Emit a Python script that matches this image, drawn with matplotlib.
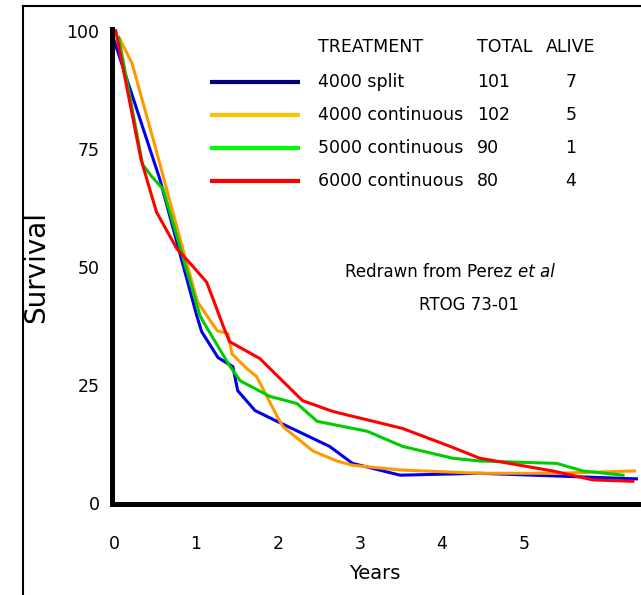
import numpy as np
import matplotlib
matplotlib.use("Agg")
import matplotlib.pyplot as plt
from matplotlib.lines import Line2D

# survival curves (years, % alive)
split4000_x = [0, 0.56, 1.01, 1.07, 1.27, 1.45, 1.51, 1.72, 1.99, 2.63, 2.91, 3.49, 4.46, 6.41]
split4000_y = [98.1, 68.6, 39.7, 36.3, 30.8, 28.9, 23.8, 19.6, 17.3, 12.0, 8.4, 5.9, 6.3, 5.1]

cont4000_x = [0.06, 0.22, 0.48, 0.84, 1.02, 1.26, 1.39, 1.44, 1.62, 1.74, 1.99, 2.06, 2.43, 2.72, 2.91, 3.49, 4.46, 5.40, 6.35]
cont4000_y = [98.7, 93.2, 77.0, 53.8, 42.6, 36.5, 35.9, 31.6, 28.5, 26.8, 18.4, 16.2, 11.0, 8.9, 8.0, 7.0, 6.3, 6.3, 6.8]

cont5000_x = [0.06, 0.35, 0.46, 0.60, 1.05, 1.09, 1.41, 1.54, 1.90, 2.23, 2.48, 3.09, 3.52, 4.13, 4.46, 5.40, 5.72, 6.21]
cont5000_y = [98.5, 71.7, 69.2, 66.5, 39.7, 38.4, 29.1, 25.9, 22.6, 21.1, 17.3, 15.2, 12.0, 9.5, 8.9, 8.4, 6.8, 5.9]

cont6000_x = [0.02, 0.33, 0.52, 0.77, 0.96, 1.13, 1.21, 1.33, 1.41, 1.78, 2.30, 2.67, 3.52, 4.10, 4.46, 5.35, 5.84, 6.33]
cont6000_y = [100.2, 72.8, 61.6, 53.8, 50.2, 46.8, 43.2, 37.6, 34.2, 30.6, 21.7, 19.4, 15.8, 12.0, 9.5, 6.8, 4.9, 4.6]

treatments = ["4000 split", "4000 continuous", "5000 continuous", "6000 continuous"]
totals = [101, 102, 90, 80]
alive = [7, 5, 1, 4]
line_colors = ["#0000ee", "#ff9900", "#00cc00", "#ff0000"]
key_colors = ["#000080", "#ffc000", "#00ff00", "#ff0000"]

xticks = [0, 1, 2, 3, 4, 5]
yticks = [0, 25, 50, 75, 100]

fig = plt.figure(figsize=(6.41, 5.95), dpi=100)
ax = fig.add_axes([0.1747, 0.153, 0.8203, 0.798])

curves = [(split4000_x, split4000_y), (cont4000_x, cont4000_y),
          (cont5000_x, cont5000_y), (cont6000_x, cont6000_y)]
for (xs, ys), c in zip(curves, line_colors):
    ax.plot(xs, ys, color=c, lw=2.2, solid_joinstyle="round")

ax.set_xlim(-0.024, 6.39)
ax.set_ylim(-0.2, 100.4)
ax.set_xticks(xticks)
ax.set_yticks(yticks)
ax.tick_params(length=0, labelsize=12.5)
ax.tick_params(axis="x", pad=22)
ax.tick_params(axis="y", pad=9)
for s in ["top", "right"]:
    ax.spines[s].set_visible(False)
for s in ["left", "bottom"]:
    ax.spines[s].set_linewidth(3.6)
ax.set_xlabel("Years", fontsize=14, labelpad=8)
ax.set_ylabel("Survival", fontsize=20, labelpad=12)

# hand-made key: treatment / total / alive table
kx0, kx1 = 0.186, 0.357
ky = [0.888, 0.819, 0.749, 0.680]
ax.text(0.392, 0.962, "TREATMENT", transform=ax.transAxes, fontsize=12.5, va="center")
ax.text(0.694, 0.962, "TOTAL", transform=ax.transAxes, fontsize=12.5, va="center")
ax.text(0.826, 0.962, "ALIVE", transform=ax.transAxes, fontsize=12.5, va="center")
for i in range(len(treatments)):
    ax.plot([kx0, kx1], [ky[i], ky[i]], color=key_colors[i], lw=3, transform=ax.transAxes,
            solid_capstyle="butt")
    ax.text(0.392, ky[i], treatments[i], transform=ax.transAxes, fontsize=12.5, va="center")
    ax.text(0.694, ky[i], str(totals[i]), transform=ax.transAxes, fontsize=12.5, va="center")
    ax.text(0.862, ky[i], str(alive[i]), transform=ax.transAxes, fontsize=12.5, va="center")

ax.text(0.762, 0.488, "Redrawn from Perez", transform=ax.transAxes, fontsize=12, va="center", ha="right")
ax.text(0.772, 0.488, "et al", transform=ax.transAxes, fontsize=12, va="center", style="italic")
ax.text(0.679, 0.419, "RTOG 73-01", transform=ax.transAxes, fontsize=12, va="center", ha="center")

# outer frame (left and top edges only)
fig.add_artist(Line2D([0.036, 0.036], [0, 0.99], color="black", lw=1.5))
fig.add_artist(Line2D([0.036, 1.0], [0.99, 0.99], color="black", lw=1.5))

fig.savefig("out.png", dpi=100)
